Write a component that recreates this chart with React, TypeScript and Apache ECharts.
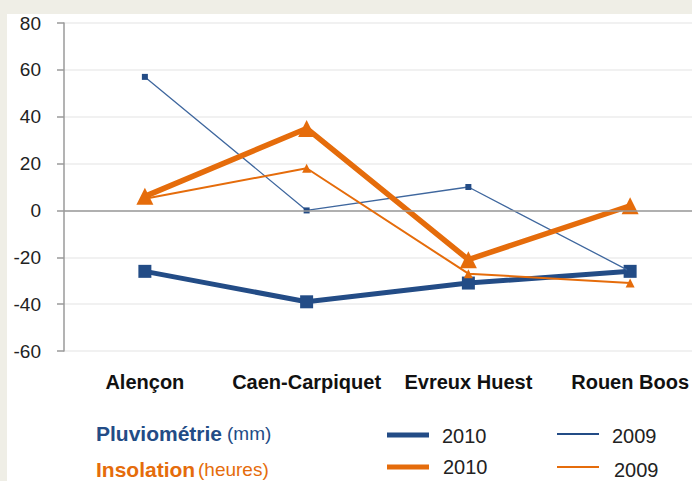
import React, { useEffect, useRef } from "react";
import * as echarts from "echarts";

const categories = ["Alençon", "Caen-Carpiquet", "Evreux Huest", "Rouen Boos"];
const pluvio2010 = [-26, -39, -31, -26];
const pluvio2009 = [57, 0, 10, -26];
const insol2010 = [6, 35, -21, 2];
const insol2009 = [5, 18, -27, -31];
const yTicks = { min: -60, max: 80, interval: 20 };

const BLUE = "#234C86";
const BLUE_THIN = "#3F679E";
const ORANGE = "#E56C0B";
const FONT = "'Liberation Sans', Arial, sans-serif";

export default function App() {
  const ref = useRef<HTMLDivElement>(null);
  useEffect(() => {
    if (!ref.current) return;
    const chart = echarts.init(ref.current, undefined, { renderer: "svg" });
    chart.setOption({
      animation: false,
      backgroundColor: "transparent",
      grid: { left: 64, top: 23, width: 647, height: 328, outerBoundsMode: "none" },
      xAxis: {
        type: "category",
        data: categories,
        boundaryGap: true,
        axisLine: { show: false },
        axisTick: { show: false },
        axisLabel: {
          interval: 0,
          margin: 21,
          fontSize: 20,
          fontWeight: "bold",
          color: "#111",
          fontFamily: FONT,
        },
      },
      yAxis: {
        type: "value",
        min: yTicks.min,
        max: yTicks.max,
        interval: yTicks.interval,
        axisLine: { show: true, lineStyle: { color: "#9a9a9a", width: 1.5 } },
        axisTick: { show: true, length: 7, lineStyle: { color: "#9a9a9a", width: 1.5 } },
        axisLabel: { margin: 23, fontSize: 19, color: "#222", fontFamily: FONT },
        splitLine: { show: true, lineStyle: { color: "#ececec", width: 1.5 } },
      },
      series: [
        {
          name: "Pluviométrie 2010",
          type: "line",
          data: pluvio2010,
          symbol: "rect",
          symbolSize: 13,
          lineStyle: { color: BLUE, width: 5 },
          itemStyle: { color: BLUE },
          markLine: {
            silent: true,
            symbol: "none",
            label: { show: false },
            lineStyle: { color: "#9a9a9a", width: 1.5, type: "solid" },
            data: [{ yAxis: 0 }],
          },
          z: 2,
        },
        {
          name: "Pluviométrie 2009",
          type: "line",
          data: pluvio2009,
          symbol: "rect",
          symbolSize: 6,
          lineStyle: { color: BLUE_THIN, width: 1.3 },
          itemStyle: { color: BLUE },
          z: 3,
        },
        {
          name: "Insolation 2010",
          type: "line",
          data: insol2010,
          symbol: "triangle",
          symbolSize: 17,
          lineStyle: { color: ORANGE, width: 5.5 },
          itemStyle: { color: ORANGE },
          z: 4,
        },
        {
          name: "Insolation 2009",
          type: "line",
          data: insol2009,
          symbol: "triangle",
          symbolSize: 9,
          lineStyle: { color: ORANGE, width: 2 },
          itemStyle: { color: ORANGE },
          z: 5,
        },
      ],
      graphic: [
        { type: "text", left: 96, top: 423, style: { text: "Pluviométrie", fill: BLUE, font: `bold 21px ${FONT}` } },
        { type: "text", left: 227, top: 424, style: { text: "(mm)", fill: BLUE, font: `19px ${FONT}` } },
        { type: "text", left: 96, top: 459, style: { text: "Insolation", fill: ORANGE, font: `bold 21px ${FONT}` } },
        { type: "text", left: 198, top: 460, style: { text: "(heures)", fill: ORANGE, font: `19px ${FONT}` } },
        { type: "line", shape: { x1: 387, y1: 435, x2: 429, y2: 435 }, style: { stroke: BLUE, lineWidth: 5 } },
        { type: "line", shape: { x1: 557, y1: 434, x2: 599, y2: 434 }, style: { stroke: BLUE, lineWidth: 2 } },
        { type: "line", shape: { x1: 387, y1: 467, x2: 429, y2: 467 }, style: { stroke: ORANGE, lineWidth: 5 } },
        { type: "line", shape: { x1: 557, y1: 467, x2: 599, y2: 467 }, style: { stroke: ORANGE, lineWidth: 2 } },
        { type: "text", left: 442, top: 426, style: { text: "2010", fill: "#222", font: `20px ${FONT}` } },
        { type: "text", left: 612, top: 426, style: { text: "2009", fill: "#222", font: `20px ${FONT}` } },
        { type: "text", left: 443, top: 457, style: { text: "2010", fill: "#222", font: `20px ${FONT}` } },
        { type: "text", left: 614, top: 460, style: { text: "2009", fill: "#222", font: `20px ${FONT}` } },
      ],
    });
    return () => chart.dispose();
  }, []);

  return (
    <div style={{ position: "fixed", left: 0, top: 0, width: 692, height: 481, background: "#EFEEE6", overflow: "hidden" }}>
      <div style={{ position: "absolute", left: 7, top: 14, right: 0, bottom: 0, background: "#fff" }} />
      <div ref={ref} style={{ position: "absolute", left: 0, top: 0, width: 692, height: 481 }} />
    </div>
  );
}
